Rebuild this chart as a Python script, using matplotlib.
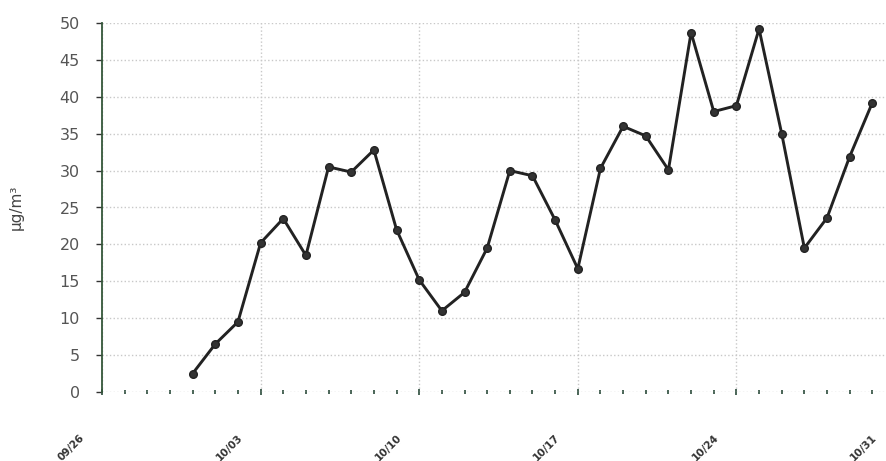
from datetime import datetime, timedelta
import numpy as np
import matplotlib
matplotlib.use('Agg')
import matplotlib.pyplot as plt
import matplotlib.dates as mdates
import matplotlib.ticker as mticker
import matplotlib.transforms as mtransforms

# daily values, 09/30 .. 10/30
start_day = datetime(2020, 9, 30)
values = [2.5, 6.5, 9.5, 20.2, 23.5, 18.5, 30.5, 29.8, 32.8, 22.0,
          15.2, 11.0, 13.5, 19.5, 30.0, 29.3, 23.3, 16.7, 30.3, 36.0,
          34.7, 30.1, 48.7, 38.0, 38.8, 49.2, 35.0, 19.5, 23.6, 31.9,
          39.2]
days = [start_day + timedelta(days=i) for i in range(len(values))]
x_start = datetime(2020, 9, 26)
x_end = datetime(2020, 10, 31)
week_ticks = [x_start + timedelta(days=7 * i) for i in range(6)]
y_ticks = list(range(0, 51, 5))
y_label = 'μg/m³'

fig = plt.figure(figsize=(8.87, 4.61), dpi=100)
ax = fig.add_axes([102/887, 1 - 392/461, (895 - 102)/887, (392 - 23)/461])

ax.plot(days, values, color='#222222', lw=2.1, marker='o', markersize=5.5,
        markerfacecolor='#333333', markeredgecolor='#222222', zorder=3)

ax.set_xlim(x_start, x_end)
ax.set_ylim(0, 50)
ax.set_yticks(y_ticks)

ax.xaxis.set_major_locator(mticker.FixedLocator(mdates.date2num(week_ticks)))
ax.xaxis.set_minor_locator(mdates.DayLocator())
ax.xaxis.set_major_formatter(mdates.DateFormatter('%m/%d'))

ax.grid(axis='y', color='#c8c8c8', ls=':', lw=1)
ax.grid(axis='x', which='major', color='#c8c8c8', ls=':', lw=1)
ax.set_axisbelow(True)

for s in ['top', 'right', 'bottom']:
    ax.spines[s].set_visible(False)
ax.spines['left'].set_color('#35573a')
ax.spines['left'].set_linewidth(1.3)

ax.tick_params(axis='y', length=4, width=1, color='#333333', pad=12,
               labelsize=11.5, labelcolor='#555555')
ax.tick_params(axis='x', which='major', length=4, width=1.2, color='#2a4a3a',
               direction='inout', pad=27, labelsize=7.5, labelcolor='#333333')
ax.tick_params(axis='x', which='minor', length=2.5, width=1.2, color='#2a4a3a',
               direction='inout')

shift = mtransforms.ScaledTranslation(-16/100, 0, fig.dpi_scale_trans)
for lab in ax.get_xticklabels():
    lab.set_rotation(45)
    lab.set_ha('right')
    lab.set_fontweight('bold')
    lab.set_transform(lab.get_transform() + shift)

ax.set_ylabel(y_label, fontsize=11, color='#444444', labelpad=26)

fig.savefig('out.png', dpi=100)
